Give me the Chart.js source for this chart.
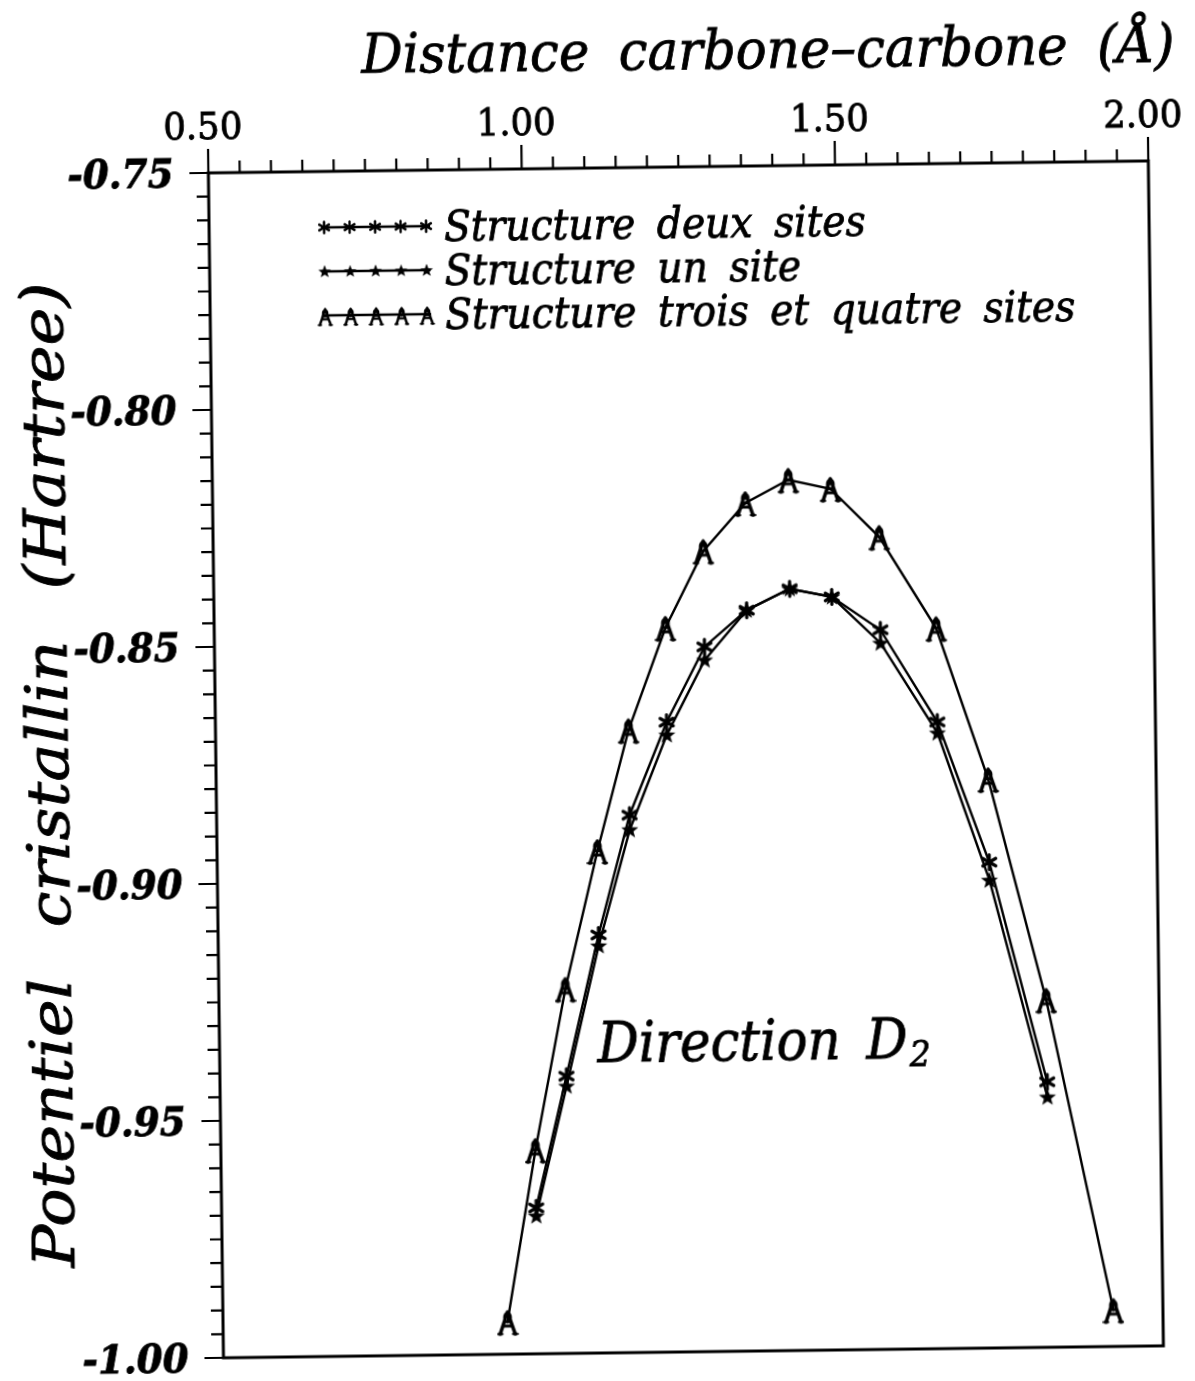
<!DOCTYPE html>
<html>
<head>
<meta charset="utf-8">
<script src="https://cdn.jsdelivr.net/npm/chart.js@4.4.1/dist/chart.umd.min.js"></script>
<style>
  html, body { margin: 0; padding: 0; background: #fff; overflow: hidden; }
  /* le document d'origine est scanné légèrement de travers */
  #cadre { width: 1195px; height: 1381px; transform: rotate(-0.73deg); transform-origin: 597.5px 690.5px; }
</style>
</head>
<body>
<div id="cadre"><canvas id="potentiel" width="1195" height="1381"></canvas></div>
<script>
// distance carbone-carbone (Å)
const distances = [0.954, 1.002, 1.053, 1.107, 1.159, 1.220, 1.282, 1.350, 1.419, 1.486, 1.563, 1.652, 1.732, 1.820, 1.921];
const distSites = distances.slice(1, 14);

// potentiel cristallin (Hartree)
const potTroisQuatre = [-0.9932, -0.9570, -0.9231, -0.8941, -0.8687, -0.8472, -0.8311, -0.8211, -0.8163, -0.8183, -0.8286, -0.8480, -0.8800, -0.9267, -0.9923];
const potDeux = [-0.9692, -0.9415, -0.9118, -0.8866, -0.8671, -0.8513, -0.8437, -0.8393, -0.8411, -0.8482, -0.8678, -0.8975, -0.9440];
const potUn = [-0.9709, -0.9436, -0.9141, -0.8897, -0.8698, -0.8541, -0.8437, -0.8393, -0.8411, -0.8510, -0.8701, -0.9013, -0.9472];

const xTicks = [0.5, 1.0, 1.5, 2.0];
const yTicks = [-1.00, -0.95, -0.90, -0.85, -0.80, -0.75];
const noms = ["Structure deux sites", "Structure un site", "Structure trois et quatre sites"];

const SERIF = '"DejaVu Serif", "Liberation Serif", serif';

// symboles des courbes
function symbole(w, h, dessin) {
  const c = document.createElement("canvas");
  c.width = w; c.height = h;
  const g = c.getContext("2d");
  g.strokeStyle = "#000"; g.fillStyle = "#000";
  g.lineCap = "round"; g.lineJoin = "round";
  dessin(g);
  return c;
}

const asterisque = symbole(20, 20, g => {
  g.lineWidth = 3.2;
  for (let k = 0; k < 3; k++) {
    const a = Math.PI / 2 + k * Math.PI / 3;
    g.beginPath();
    g.moveTo(10 + 7.5 * Math.cos(a), 10 + 7.5 * Math.sin(a));
    g.lineTo(10 - 7.5 * Math.cos(a), 10 - 7.5 * Math.sin(a));
    g.stroke();
  }
  g.beginPath(); g.arc(10, 10, 3, 0, Math.PI * 2); g.fill();
});

const etoile = symbole(20, 20, g => {
  g.beginPath();
  for (let k = 0; k < 10; k++) {
    const r = k % 2 ? 3.8 : 9;
    const a = -Math.PI / 2 + k * Math.PI / 5;
    g.lineTo(10 + r * Math.cos(a), 10.5 + r * Math.sin(a));
  }
  g.closePath(); g.fill();
});

const lettreA = symbole(22, 34, g => {
  g.lineWidth = 3.6;
  g.beginPath();
  g.moveTo(3.5, 29); g.lineTo(11, 7); g.lineTo(18.5, 29);
  g.stroke();
  g.lineWidth = 2.8;
  g.beginPath(); g.ellipse(11, 12.5, 3, 4.5, 0, 0, Math.PI * 2); g.stroke();
  g.beginPath(); g.moveTo(7, 21); g.lineTo(15, 21); g.stroke();
  g.lineWidth = 2.4;
  g.beginPath(); g.moveTo(1.5, 29); g.lineTo(5.5, 29); g.moveTo(16.5, 29); g.lineTo(20.5, 29); g.stroke();
});

const symboles = [asterisque, etoile, lettreA];

function points(xs, ys) {
  return xs.map((x, i) => ({ x, y: ys[i] }));
}

// texte ajusté horizontalement pour tenir dans une largeur donnée, un peu épaissi
function ecrire(ctx, txt, x, y, font, largeur, align, espace) {
  ctx.save();
  ctx.font = font;
  ctx.wordSpacing = (espace || 0) + "px";
  const sx = largeur / ctx.measureText(txt).width;
  ctx.translate(x, y);
  ctx.scale(sx, 1);
  ctx.textAlign = align;
  ctx.textBaseline = "alphabetic";
  ctx.lineWidth = 0.9;
  ctx.fillText(txt, 0, 0);
  ctx.strokeText(txt, 0, 0);
  ctx.restore();
  return sx;
}

// cadre, graduations, étiquettes, titres et légende
const habillage = {
  id: "habillage",
  afterDraw(chart) {
    const { ctx, chartArea: a, scales: { x, y } } = chart;
    ctx.save();
    ctx.strokeStyle = "#000";
    ctx.fillStyle = "#000";
    ctx.lineWidth = 3;
    ctx.strokeRect(a.left, a.top, a.right - a.left, a.bottom - a.top);

    ctx.lineWidth = 2.2;
    ctx.beginPath();
    for (let i = 0; i <= 30; i++) {
      const px = x.getPixelForValue(0.5 + i * 0.05);
      const len = i % 10 === 0 ? 24 : 12;
      ctx.moveTo(px, a.top); ctx.lineTo(px, a.top - len);
    }
    for (let i = 0; i <= 50; i++) {
      const py = y.getPixelForValue(-1 + i * 0.005);
      const len = i % 10 === 0 ? 19 : 12;
      ctx.moveTo(a.left, py); ctx.lineTo(a.left - len, py);
    }
    ctx.stroke();

    // étiquettes des graduations
    xTicks.forEach(v => {
      ecrire(ctx, v.toFixed(2), x.getPixelForValue(v) - 5, 134, "38px " + SERIF, 79, "center");
    });
    yTicks.forEach(v => {
      ecrire(ctx, v.toFixed(2), 180, y.getPixelForValue(v) + 14, "italic bold 40px " + SERIF, 106, "right");
    });

    // titres des axes
    ecrire(ctx, "Distance carbone–carbone (Å)", 776, 70, "italic 55px " + SERIF, 813, "center", 14);
    ctx.save();
    ctx.translate(67, 768);
    ctx.rotate(-Math.PI / 2);
    ecrire(ctx, "Potentiel cristallin (Hartree)", 0, 0, "italic 58px " + SERIF, 985, "center", 28);
    ctx.restore();

    // légende
    const bases = [239, 283, 327];
    bases.forEach((by, i) => {
      const ly = by - 15;
      ctx.lineWidth = 2.5;
      ctx.beginPath(); ctx.moveTo(327, ly); ctx.lineTo(436, ly); ctx.stroke();
      const s = symboles[i];
      const sc = i === 2 ? 0.72 : 0.75;
      for (let k = 0; k < 5; k++) {
        const mx = 330 + k * 25.5;
        ctx.drawImage(s, mx - s.width * sc / 2, ly - s.height * sc / 2 + (i === 2 ? 1 : 0), s.width * sc, s.height * sc);
      }
    });
    ctx.font = "italic 43px " + SERIF;
    ctx.wordSpacing = "10px";
    const sxLeg = 630 / ctx.measureText(noms[2]).width;
    ctx.lineWidth = 0.9;
    bases.forEach((by, i) => {
      ctx.save();
      ctx.translate(450, by);
      ctx.scale(sxLeg, 1);
      ctx.textAlign = "left";
      ctx.fillText(noms[i], 0, 0);
      ctx.strokeText(noms[i], 0, 0);
      ctx.restore();
    });

    // direction
    const sxDir = ecrire(ctx, "Direction D", 593, 1062, "italic 56px " + SERIF, 310, "left", 10);
    ctx.font = "italic 36px " + SERIF;
    ctx.save();
    ctx.translate(593 + 312, 1070);
    ctx.scale(sxDir, 1);
    ctx.lineWidth = 0.9;
    ctx.fillText("2", 0, 0);
    ctx.strokeText("2", 0, 0);
    ctx.restore();
    ctx.restore();
  }
};

new Chart(document.getElementById("potentiel"), {
  type: "scatter",
  data: {
    datasets: [
      { label: noms[0], data: points(distSites, potDeux), pointStyle: asterisque },
      { label: noms[1], data: points(distSites, potUn), pointStyle: etoile },
      { label: noms[2], data: points(distances, potTroisQuatre), pointStyle: lettreA }
    ].map(d => Object.assign(d, {
      showLine: true, borderColor: "#000", backgroundColor: "#000",
      borderWidth: 2.4, tension: 0, pointRadius: 8, clip: false
    }))
  },
  options: {
    responsive: false,
    devicePixelRatio: 1,
    animation: false,
    layout: { padding: { left: 0, top: 0, right: 40, bottom: 28 } },
    plugins: { legend: { display: false }, tooltip: { enabled: false } },
    scales: {
      x: {
        type: "linear", position: "top", min: 0.5, max: 2.0,
        afterBuildTicks: s => { s.ticks = xTicks.map(v => ({ value: v })); },
        afterFit: s => { s.height = 168; s.paddingLeft = 0; s.paddingRight = 0; },
        grid: { display: false }, border: { display: false },
        ticks: { display: false }
      },
      y: {
        type: "linear", min: -1.0, max: -0.75,
        afterBuildTicks: s => { s.ticks = yTicks.map(v => ({ value: v })); },
        afterFit: s => { s.width = 215; s.paddingTop = 0; s.paddingBottom = 0; },
        grid: { display: false }, border: { display: false },
        ticks: { display: false }
      }
    }
  },
  plugins: [habillage]
});
</script>
</body>
</html>
